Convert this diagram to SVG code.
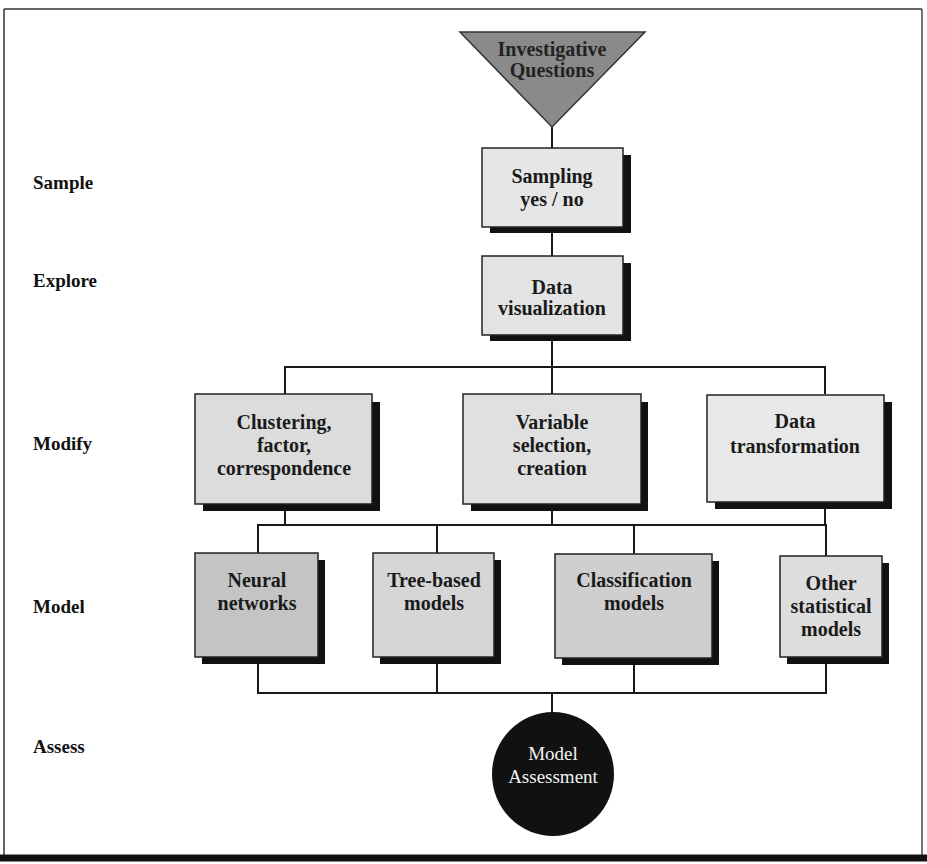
<svg xmlns="http://www.w3.org/2000/svg" width="927" height="864" viewBox="0 0 927 864">
<style>
.lbl{font-family:"Liberation Serif","Times New Roman",serif;font-weight:bold;font-size:19px;fill:#111}
.bt{font-family:"Liberation Serif","Times New Roman",serif;font-weight:bold;font-size:20px;fill:#1a1a1a;text-anchor:middle}
.box{stroke:#222;stroke-width:1.5}
.sh{fill:#111}
.conn line,.conn polyline{stroke:#1a1a1a;stroke-width:2;fill:none}
.ct{font-family:"Liberation Serif","Times New Roman",serif;font-size:19px;fill:#f2f2f2;text-anchor:middle}
</style>
<rect x="0" y="0" width="927" height="864" fill="#ffffff"/>
<g id="frame">
<line x1="4" y1="9" x2="922" y2="9" stroke="#333" stroke-width="1.5"/>
<line x1="4" y1="9" x2="4" y2="858" stroke="#333" stroke-width="1.5"/>
<line x1="922" y1="9" x2="922" y2="858" stroke="#444" stroke-width="1.5"/>
<line x1="0" y1="858" x2="927" y2="858" stroke="#111" stroke-width="7"/>
</g>
<g id="labels">
<text class="lbl" x="33" y="189">Sample</text>
<text class="lbl" x="33" y="287">Explore</text>
<text class="lbl" x="33" y="450">Modify</text>
<text class="lbl" x="33" y="613">Model</text>
<text class="lbl" x="33" y="753">Assess</text>
</g>
<g class="conn" id="connectors">
<line x1="552" y1="127" x2="552" y2="148"/>
<line x1="552" y1="233" x2="552" y2="256"/>
<line x1="552" y1="341" x2="552" y2="367"/>
<polyline points="285,394 285,367 825,367 825,394"/>
<line x1="552" y1="367" x2="552" y2="394"/>
<line x1="285" y1="511" x2="285" y2="525"/>
<line x1="552" y1="511" x2="552" y2="525"/>
<line x1="825" y1="509" x2="825" y2="525"/>
<polyline points="258,553 258,525 826,525 826,556"/>
<line x1="437" y1="525" x2="437" y2="555"/>
<line x1="634" y1="525" x2="634" y2="555"/>
<polyline points="258,664 258,693 826,693 826,664"/>
<line x1="437" y1="664" x2="437" y2="693"/>
<line x1="634" y1="664" x2="634" y2="693"/>
<line x1="552" y1="693" x2="552" y2="713"/>
</g>
<g id="investigative">
<polygon points="460,32 645,32 552,127" fill="#8a8a8a" stroke="#333" stroke-width="1.5"/>
<text class="bt" x="552" y="56" style="fill:#222">Investigative</text>
<text class="bt" x="552" y="77" style="fill:#222">Questions</text>
</g>
<g id="sampling">
<rect class="sh" x="490" y="155" width="141" height="78"/>
<rect class="box" x="482" y="148" width="141" height="79" fill="#e6e6e6"/>
<text class="bt" x="552" y="183">Sampling</text>
<text class="bt" x="552" y="206">yes / no</text>
</g>
<g id="datavis">
<rect class="sh" x="490" y="263" width="141" height="78"/>
<rect class="box" x="482" y="256" width="141" height="79" fill="#e3e3e3"/>
<text class="bt" x="552" y="294">Data</text>
<text class="bt" x="552" y="315">visualization</text>
</g>
<g id="clustering">
<rect class="sh" x="203" y="402" width="177" height="109"/>
<rect class="box" x="195" y="394" width="177" height="110" fill="#dcdcdc"/>
<text class="bt" x="284" y="429">Clustering,</text>
<text class="bt" x="284" y="452">factor,</text>
<text class="bt" x="284" y="475">correspondence</text>
</g>
<g id="variable">
<rect class="sh" x="471" y="402" width="177" height="109"/>
<rect class="box" x="463" y="394" width="178" height="110" fill="#e0e0e0"/>
<text class="bt" x="552" y="429">Variable</text>
<text class="bt" x="552" y="452">selection,</text>
<text class="bt" x="552" y="475">creation</text>
</g>
<g id="transform">
<rect class="sh" x="715" y="402" width="177" height="107"/>
<rect class="box" x="707" y="395" width="177" height="107" fill="#e8e8e8"/>
<text class="bt" x="795" y="428">Data</text>
<text class="bt" x="795" y="453">transformation</text>
</g>
<g id="neural">
<rect class="sh" x="202" y="560" width="123" height="104"/>
<rect class="box" x="195" y="553" width="123" height="104" fill="#c4c4c4"/>
<text class="bt" x="257" y="587">Neural</text>
<text class="bt" x="257" y="610">networks</text>
</g>
<g id="tree">
<rect class="sh" x="380" y="560" width="121" height="104"/>
<rect class="box" x="373" y="553" width="121" height="104" fill="#d6d6d6"/>
<text class="bt" x="434" y="587">Tree-based</text>
<text class="bt" x="434" y="610">models</text>
</g>
<g id="classification">
<rect class="sh" x="562" y="561" width="157" height="104"/>
<rect class="box" x="555" y="554" width="157" height="104" fill="#cfcfcf"/>
<text class="bt" x="634" y="587">Classification</text>
<text class="bt" x="634" y="610">models</text>
</g>
<g id="other">
<rect class="sh" x="787" y="563" width="102" height="101"/>
<rect class="box" x="780" y="556" width="102" height="101" fill="#dddddd"/>
<text class="bt" x="831" y="590">Other</text>
<text class="bt" x="831" y="613">statistical</text>
<text class="bt" x="831" y="636">models</text>
</g>
<g id="assessment">
<ellipse cx="553" cy="774" rx="61" ry="62" fill="#111111"/>
<text class="ct" x="553" y="760">Model</text>
<text class="ct" x="553" y="783">Assessment</text>
</g>
</svg>
